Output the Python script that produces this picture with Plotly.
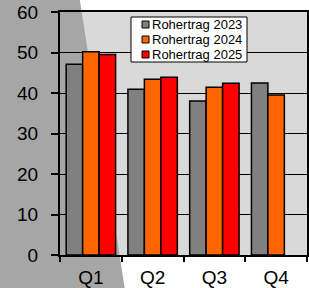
import plotly.graph_objects as go

categories = ["Q1", "Q2", "Q3", "Q4"]
series_names = ["Rohertrag 2023", "Rohertrag 2024", "Rohertrag 2025"]
values_2023 = [47.1, 40.9, 38.0, 42.5]
values_2024 = [50.2, 43.4, 41.4, 39.5]
values_2025 = [49.5, 43.9, 42.4, None]
y_ticks = [0, 10, 20, 30, 40, 50, 60]
colors = ["#808080", "#ff6600", "#ff0000"]

W, H = 309, 288
ML, MR, MT, MB = 60, 2, 12, 33
PW = W - ML - MR
PH = H - MT - MB

def px(x):
    return (x - ML) / PW

def py(y):
    return (H - MB - y) / PH

FONT = "Arial, Liberation Sans, sans-serif"

fig = go.Figure()
for name, vals, col in zip(series_names, [values_2023, values_2024, values_2025], colors):
    fig.add_trace(go.Bar(
        x=categories, y=vals, name=name,
        marker=dict(color=col, line=dict(color="black", width=1.5)),
        showlegend=False,
    ))

shapes = []
# gray background wedge
shapes.append(dict(
    type="path", xref="paper", yref="paper", layer="below",
    path=f"M {px(-5)} {py(-5)} L {px(79)} {py(-5)} L {px(79.8)} {py(0)} L {px(125)} {py(290)} L {px(-5)} {py(290)} Z",
    fillcolor="#a6a6a6", line=dict(width=0),
))
# legend box
shapes.append(dict(
    type="rect", xref="paper", yref="paper",
    x0=px(131), x1=px(247), y0=py(17), y1=py(62),
    fillcolor="white", line=dict(color="black", width=1),
))
annotations = []
row_y = [24.5, 39.5, 54.5]
for name, col, ry in zip(series_names, colors, row_y):
    shapes.append(dict(
        type="rect", xref="paper", yref="paper",
        x0=px(142), x1=px(149), y0=py(ry - 3.5), y1=py(ry + 3.5),
        fillcolor=col, line=dict(color="black", width=1),
    ))
    annotations.append(dict(
        x=px(150), y=py(ry), xref="paper", yref="paper",
        text=name, showarrow=False, xanchor="left", yanchor="middle",
        font=dict(family=FONT, size=13, color="black"),
    ))

fig.update_layout(
    width=W, height=H,
    margin=dict(l=ML, r=MR, t=MT, b=MB, autoexpand=False),
    paper_bgcolor="white",
    plot_bgcolor="#d9d9d9",
    barmode="group", bargap=0.2, bargroupgap=0,
    shapes=shapes, annotations=annotations,
    font=dict(family=FONT, color="black"),
)
fig.update_xaxes(
    automargin=False,
    tickson="boundaries", ticks="outside", ticklen=5, tickwidth=1.5, tickcolor="black",
    showline=True, linecolor="black", linewidth=2, mirror=True,
    tickfont=dict(family=FONT, size=19, color="black"),
    showgrid=False,
    ticklabelstandoff=4,
)
fig.update_yaxes(
    automargin=False,
    range=[0, 60], tickvals=y_ticks, ticks="outside", ticklen=7, tickwidth=1.5, tickcolor="black",
    showline=True, linecolor="black", linewidth=2, mirror=True,
    showgrid=True, gridcolor="black", gridwidth=1,
    zeroline=False,
    tickfont=dict(family=FONT, size=19, color="black"),
    ticklabelstandoff=9,
)

fig.write_html(
    "out.html",
    config={"displayModeBar": False},
    post_script="document.body.style.margin='0';document.body.style.overflow='hidden';",
)
